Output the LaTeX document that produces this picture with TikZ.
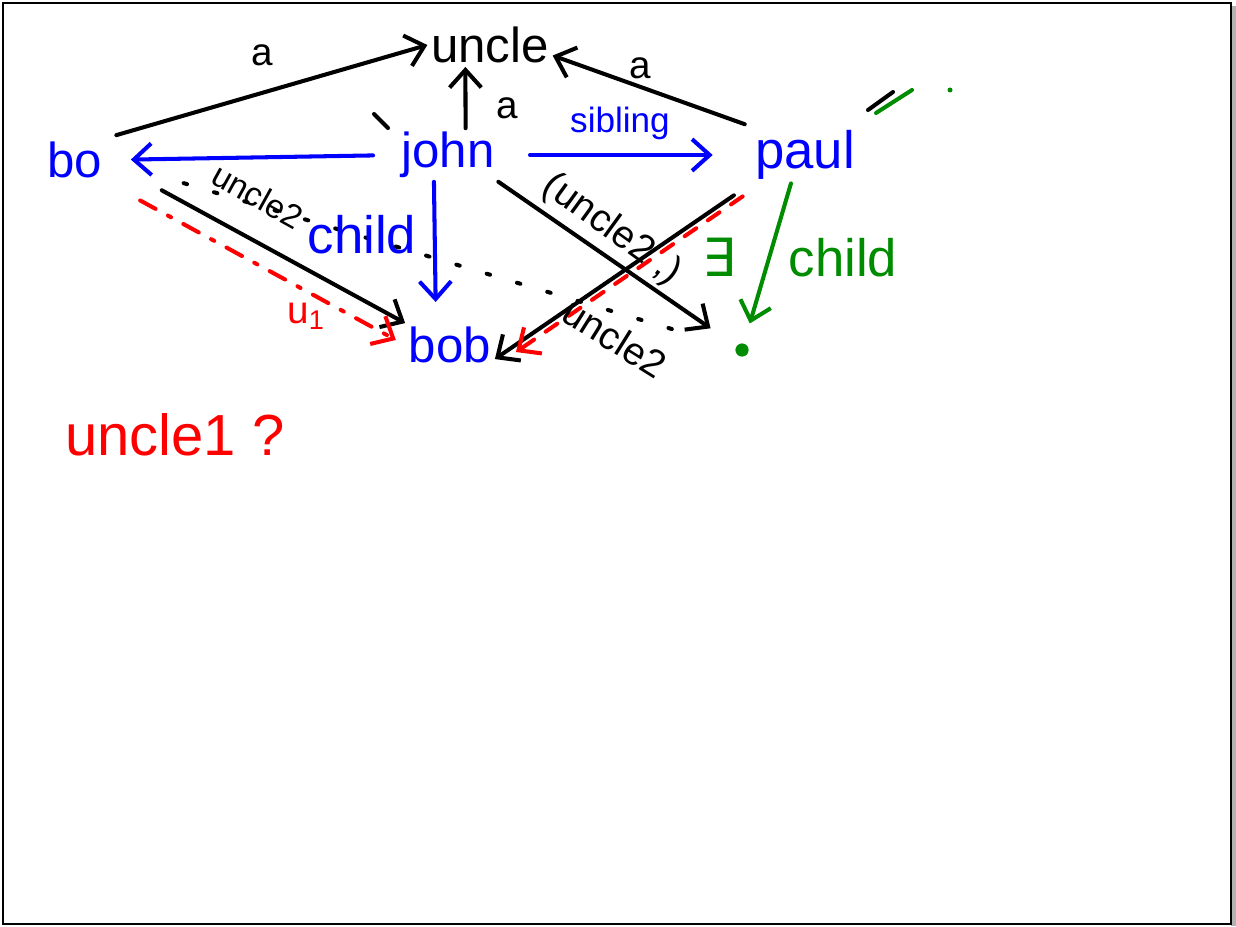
\documentclass[tikz,border=0pt]{standalone}
\usepackage{fontspec}
\setmainfont{Liberation Sans}
\newfontfamily\symfont{DejaVu Sans}
\usetikzlibrary{arrows.meta, positioning}
\definecolor{inkblue}{RGB}{0,0,255}
\definecolor{inkred}{RGB}{255,0,0}
\definecolor{inkgreen}{RGB}{0,140,0}
\tikzstyle{word} = [inner sep = 2pt, font=\fontsize{28}{30}\selectfont]
\tikzstyle{bword} = [word, text=inkblue]
\tikzstyle{tag} = [inner sep = 1pt, font=\fontsize{22}{24}\selectfont]
\tikzstyle{gdot} = [circle, fill=inkgreen, draw=inkgreen, inner sep = 2.5pt]
\tikzstyle{arc} = [draw, line width=2.3pt, line cap=round, -{Straight Barb[length=10pt, width=18pt]}]
\tikzstyle{stroke} = [draw, line width=2.3pt, line cap=round]

\begin{document}
\begin{tikzpicture}[x=0.02cm, y=-0.02cm]
			\useasboundingbox (0, 0) rectangle (1236, 926);
			\fill [gray!60] (1231, 6) rectangle (1236, 926);
			\draw [line width=1.4pt] (3, 3) rectangle (1231, 924);

			\node [word] (uncle) at (490, 45) {uncle};
			\node [bword] (john) at (448, 155) {john};
			\node [bword] (bo) at (75, 160) {bo};
			\node [bword, font=\fontsize{30}{32}\selectfont] (paul) at (805, 155) {paul};
			\node [bword] (bob) at (450, 345) {bob};
			\node [gdot] (unk) at (742, 350) {};

			\path [arc, shorten <=6pt] (bo.north east) -- (uncle.west);
			\path [arc] ([xshift=10pt]john.north) -- ([xshift=-14pt]uncle.south);
			\path [arc, shorten <=4pt] (paul.north west) -- ([yshift=-6pt]uncle.east);
			\path [arc, inkblue, shorten <=14pt, shorten >=14pt] (john.west) -- (bo.east);
			\path [arc, inkblue, shorten <=18pt, shorten >=22pt] (john.east) -- (paul.west);
			\path [arc, inkblue, shorten >=12pt] ([xshift=-8pt]john.south) -- ([xshift=-8pt]bob.north);
			\path [arc, shorten <=36pt] (bo.east) -- (bob.north west);
			\path [arc, inkred, dash pattern=on 10pt off 8pt on 2pt off 8pt, shorten <=22pt, shorten >=6pt] (bo.south east) -- (bob.west);
			\path [arc, shorten >=18pt] (john.south east) -- (unk);
			\path [arc, shorten <=12pt] (paul.south west) -- ([yshift=-8pt]bob.east);
			\path [arc, inkred, dash pattern=on 8pt off 8pt, shorten <=6pt] ([yshift=-4pt]paul.south west) -- ([xshift=12pt, yshift=-4pt]bob.east);
			\path [arc, inkgreen, shorten >=12pt] ([xshift=-8pt]paul.south) -- (unk);
			\path [stroke, dash pattern=on 2pt off 16pt, shorten <=46pt, shorten >=30pt] (bo.east) -- (unk);

			\node [tag] (a1) at (262, 55) {a};
			\node [tag] (a2) at (507, 108) {a};
			\node [tag] (a3) at (640, 68) {a};
			\node [tag, text=inkblue, font=\fontsize{20}{22}\selectfont] (sib) at (620, 123) {sibling};
			\node [bword, font=\fontsize{30}{32}\selectfont] (chl) at (362, 235) {child};
			\node [tag, rotate=-29, font=\fontsize{19}{21}\selectfont] (u2a) at (258, 196) {uncle2};
			\node [tag, rotate=-36] (u2b) at (612, 230) {(uncle2 ,)};
			\node [tag, rotate=-32] (u2c) at (615, 338) {uncle2};
			\node [tag, text=inkred] (u1) at (306, 316) {u\textsubscript{1}};
			\node [word, text=inkgreen, font=\fontsize{30}{32}\selectfont] (exch) at (800, 258) {{\symfont ∃}\hspace{30pt}child};
			\node [word, text=inkred, font=\fontsize{33}{35}\selectfont] (q) at (175, 435) {uncle1 ?};

			\path [stroke] (374, 114) -- (388, 128);
			\path [stroke] (868, 110) -- (893, 92);
			\path [stroke, inkgreen] (876, 113) -- (912, 90);
			\fill [inkgreen] (950, 90) circle (2.5);
		\end{tikzpicture}
\end{document}
